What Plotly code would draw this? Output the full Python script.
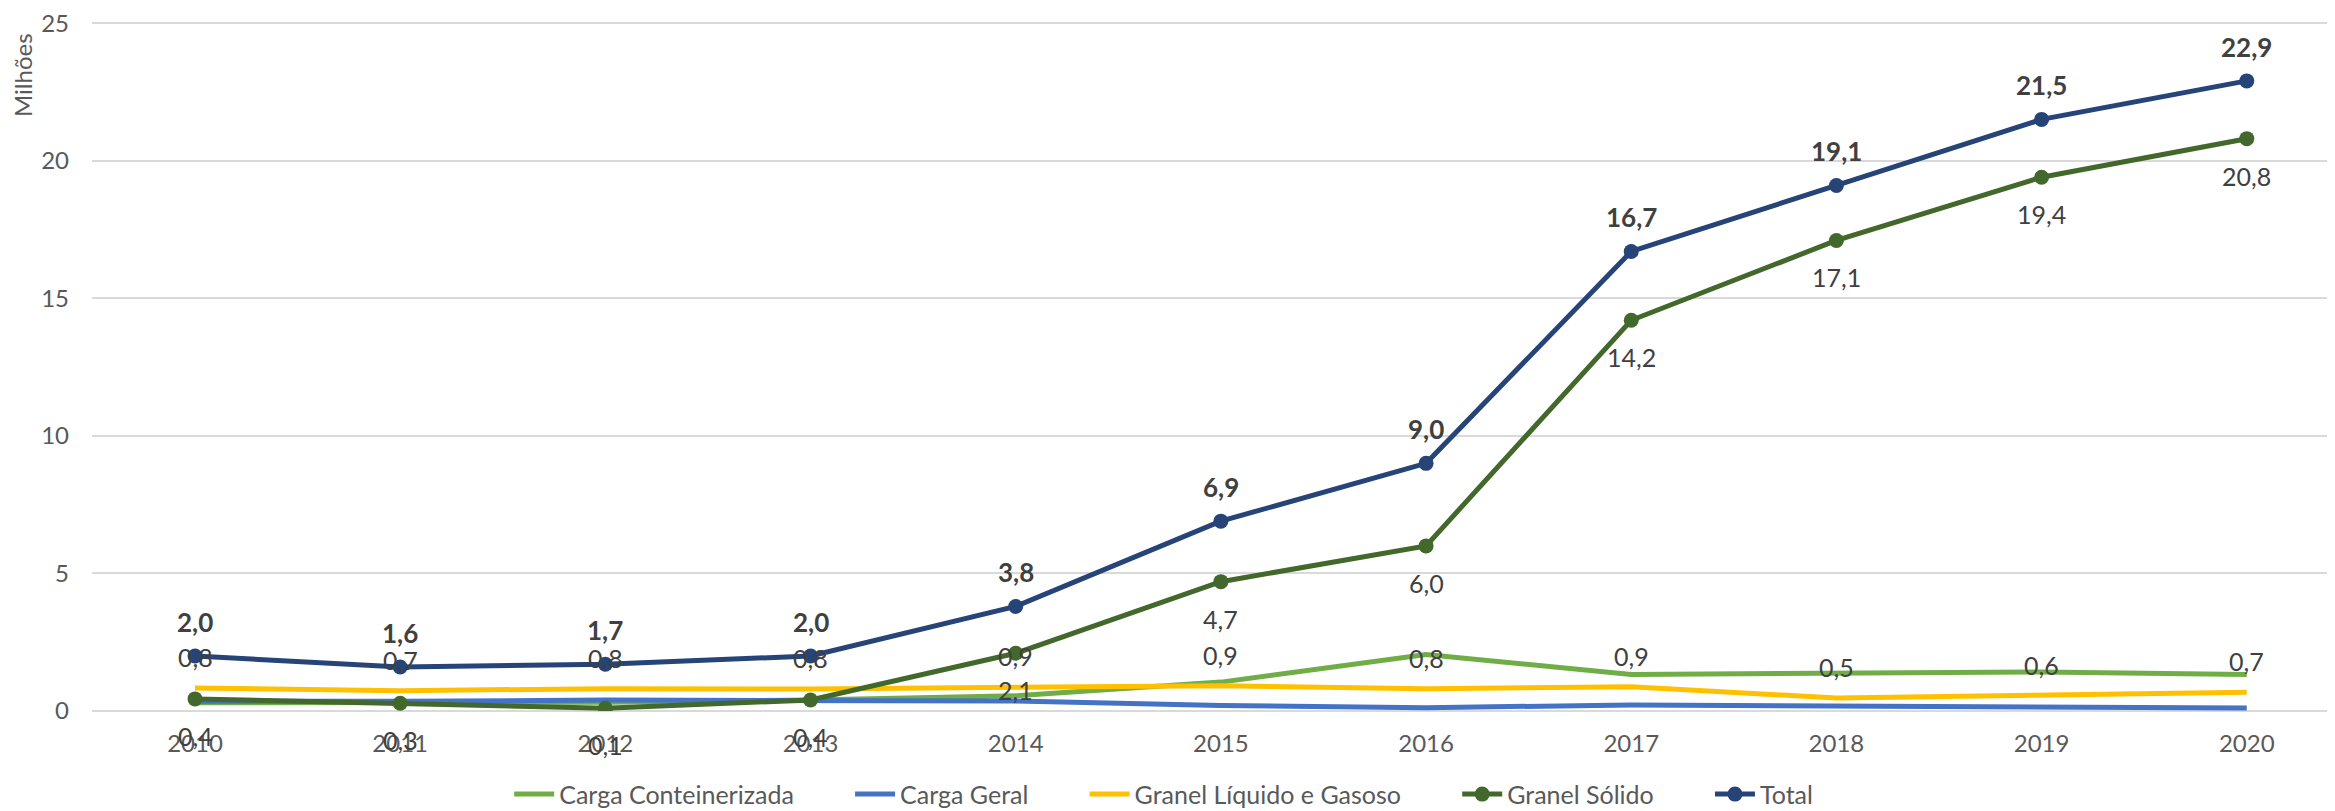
import plotly.graph_objects as go

# dados (milhões)
anos = [2010, 2011, 2012, 2013, 2014, 2015, 2016, 2017, 2018, 2019, 2020]
carga_conteinerizada = [0.3, 0.3, 0.32, 0.4, 0.55, 1.05, 2.05, 1.33, 1.36, 1.42, 1.33]
carga_geral = [0.35, 0.35, 0.4, 0.4, 0.36, 0.2, 0.12, 0.22, 0.17, 0.15, 0.11]
granel_liquido = [0.84, 0.74, 0.81, 0.8, 0.86, 0.92, 0.81, 0.88, 0.47, 0.56, 0.68]
granel_solido = [0.44, 0.28, 0.1, 0.4, 2.1, 4.7, 6.0, 14.2, 17.1, 19.4, 20.8]
total = [2.0, 1.6, 1.7, 2.0, 3.8, 6.9, 9.0, 16.7, 19.1, 21.5, 22.9]

FONTE = "Lato"
CINZA = "#595959"
PAD = "\u00a0" * 8  # espaço extra entre itens da legenda


def fmt(v):
    return f"{v:.1f}".replace(".", ",")


fig = go.Figure()

fig.add_trace(go.Scatter(x=anos, y=carga_conteinerizada, name="Carga Conteinerizada" + PAD,
                         mode="lines", line=dict(color="#70AD47", width=5)))
fig.add_trace(go.Scatter(x=anos, y=carga_geral, name="Carga Geral" + PAD,
                         mode="lines", line=dict(color="#4472C4", width=5)))
fig.add_trace(go.Scatter(x=anos, y=granel_liquido, name="Granel Líquido e Gasoso" + PAD,
                         mode="lines", line=dict(color="#FFC000", width=5)))
fig.add_trace(go.Scatter(x=anos, y=granel_solido, name="Granel Sólido" + PAD,
                         mode="lines+markers", line=dict(color="#43682B", width=5),
                         marker=dict(size=15, color="#43682B")))
fig.add_trace(go.Scatter(x=anos, y=total, name="Total",
                         mode="lines+markers", line=dict(color="#264478", width=5),
                         marker=dict(size=15, color="#264478")))

# rótulos de dados
annots = []
for x, v in zip(anos, granel_liquido):
    annots.append(dict(x=x, y=v, text=fmt(v), showarrow=False, yshift=31,
                       font=dict(size=25, color="#404040", family=FONTE)))
for x, v in zip(anos, granel_solido):
    annots.append(dict(x=x, y=v, text=fmt(v), showarrow=False, yshift=-37,
                       font=dict(size=25, color="#404040", family=FONTE)))
for x, v in zip(anos, total):
    annots.append(dict(x=x, y=v, text="<b>" + fmt(v) + "</b>", showarrow=False, yshift=34,
                       font=dict(size=26, color="#404040", family=FONTE)))

# título do eixo y (no topo, como no Excel)
annots.append(dict(xref="paper", yref="paper", x=0, y=1, xshift=-70, yshift=-9,
                   xanchor="center", yanchor="top", textangle=-90, showarrow=False,
                   text="Milhões", font=dict(size=24, color=CINZA, family=FONTE)))

# a página tem 8px de margem no body -> figura um pouco menor
fig.update_layout(
    width=2327, height=803,
    margin=dict(l=84, r=0, t=14, b=100, autoexpand=False),
    plot_bgcolor="white", paper_bgcolor="white",
    font=dict(family=FONTE, color=CINZA, size=24),
    annotations=annots,
    showlegend=True,
    legend=dict(orientation="h", x=0.186, xanchor="left", y=-0.121, yanchor="middle",
                font=dict(size=25, color=CINZA), itemwidth=40),
    hovermode=False,
)
fig.update_xaxes(range=[2009.498, 2020.43], tickvals=anos, showgrid=False, automargin=False,
                 showline=False, zeroline=False, ticklabelstandoff=16,
                 tickfont=dict(size=24, color=CINZA))
fig.update_yaxes(range=[0, 25.04], tickvals=[0, 5, 10, 15, 20, 25], showgrid=True,
                 gridcolor="#D9D9D9", gridwidth=1.5, ticklabeloverflow="allow",
                 zeroline=True, zerolinecolor="#D9D9D9", zerolinewidth=1.5, automargin=False,
                 showline=False, ticklabelstandoff=22, tickfont=dict(size=24, color=CINZA))

fig.write_html("out.html")
